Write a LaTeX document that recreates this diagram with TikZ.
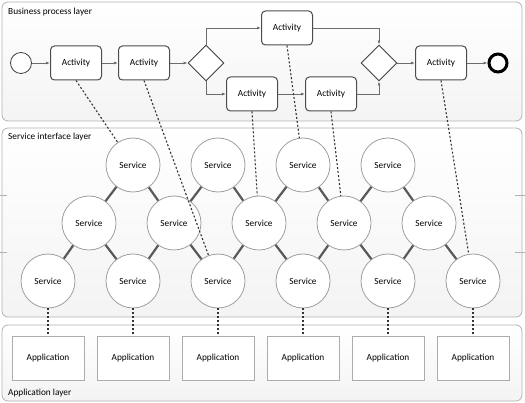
\documentclass[tikz,border=0pt]{standalone}
\usepackage{fontspec}
\setmainfont{Carlito}
\usetikzlibrary{shapes.geometric,arrows.meta}

\tikzset{
  layer/.style={draw=gray!60, rounded corners=6pt, top color=white, bottom color=gray!9, line width=0.8pt},
  activity/.style={draw=black!70, fill=white, rounded corners=4pt, minimum width=51pt, minimum height=34pt, inner sep=0pt, line width=1pt},
  gateway/.style={diamond, draw=black!75, fill=white, minimum width=36pt, minimum height=36pt, inner sep=0pt, line width=0.9pt},
  service/.style={circle, draw=gray!75, fill=white, minimum size=54pt, inner sep=0pt, line width=0.8pt},
  application/.style={draw=gray!65, fill=white, minimum width=72pt, minimum height=44pt, inner sep=0pt, line width=0.8pt},
  flow/.style={draw=gray!85!black, line width=0.8pt, -{Latex[length=4pt,width=3pt]}},
  link/.style={draw=black!65, line width=2.2pt},
  trace/.style={draw=black!80, line width=1.1pt, dash pattern=on 2pt off 2pt},
}

\begin{document}
\begin{tikzpicture}[x=1pt, y=-1pt, every node/.style={font=\fontsize{9.3}{11}\selectfont}]

\useasboundingbox (0,0) rectangle (525,403);

% Layers
\draw[layer] (2,2) rectangle (522,121);
\draw[layer] (2,128) rectangle (522,317);
\draw[layer] (2,325) rectangle (522,401);

% Small ticks on the service layer
\draw[gray!60, line width=0.8pt] (0,195) -- (7,195) (0,252) -- (7,252);
\draw[gray!60, line width=0.8pt] (515,195) -- (525,195) (515,252) -- (525,252);

% Layer labels
\node[anchor=west, inner sep=0pt] at (8,12) {Business process layer};
\node[anchor=west, inner sep=0pt] at (8,137) {Service interface layer};
\node[anchor=west, inner sep=0pt] at (8,393) {Application layer};

% Business process
\node[circle, draw=black!75, fill=white, minimum size=21pt, inner sep=0pt, line width=0.8pt] (start) at (21,63) {};
\node[activity] (act1) at (76,63) {Activity};
\node[activity] (act2) at (144,63) {Activity};
\node[gateway] (split) at (206,63) {};
\node[activity] (actTop) at (287,28) {Activity};
\node[activity] (actLeft) at (252,94) {Activity};
\node[activity] (actRight) at (331,94) {Activity};
\node[gateway] (join) at (379,63) {};
\node[activity] (actLast) at (441,63) {Activity};
\node[circle, draw=black, fill=white, minimum size=18pt, inner sep=0pt, line width=3pt] (end) at (498,63) {};

% Sequence flows
\draw[flow] (start) -- (act1);
\draw[flow] (act1) -- (act2);
\draw[flow] (act2) -- (split);
\draw[flow] (split.north) |- (actTop.west);
\draw[flow] (split.south) |- (actLeft.west);
\draw[flow] (actLeft) -- (actRight);
\draw[flow] (actTop.east) -| (join.north);
\draw[flow] (actRight.east) -| (join.south);
\draw[flow] (join) -- (actLast);
\draw[flow] (actLast) -- (end);

% Services, top row
\node[service] (sT1) at (133,165) {Service};
\node[service] (sT2) at (218,165) {Service};
\node[service] (sT3) at (303,165) {Service};
\node[service] (sT4) at (388,165) {Service};

% Services, middle row
\node[service] (sM1) at (89,223) {Service};
\node[service] (sM2) at (174,223) {Service};
\node[service] (sM3) at (259,223) {Service};
\node[service] (sM4) at (344,223) {Service};
\node[service] (sM5) at (429,223) {Service};

% Services, bottom row
\node[service] (sB1) at (48,281) {Service};
\node[service] (sB2) at (133,281) {Service};
\node[service] (sB3) at (218,281) {Service};
\node[service] (sB4) at (303,281) {Service};
\node[service] (sB5) at (388,281) {Service};
\node[service] (sB6) at (473,281) {Service};

% Links between services
\draw[link] (sT1) -- (sM1) (sT1) -- (sM2) (sT2) -- (sM2) (sT2) -- (sM3)
            (sT3) -- (sM3) (sT3) -- (sM4) (sT4) -- (sM4) (sT4) -- (sM5);
\draw[link] (sM1) -- (sB1) (sM1) -- (sB2) (sM2) -- (sB2) (sM2) -- (sB3)
            (sM3) -- (sB3) (sM3) -- (sB4) (sM4) -- (sB4) (sM4) -- (sB5)
            (sM5) -- (sB5) (sM5) -- (sB6);

% Applications
\node[application] (app1) at (48,358) {Application};
\node[application] (app2) at (133,358) {Application};
\node[application] (app3) at (218,358) {Application};
\node[application] (app4) at (303,358) {Application};
\node[application] (app5) at (388,358) {Application};
\node[application] (app6) at (473,358) {Application};

% Activities realised by services
\draw[trace] (act1.south) -- (sT1);
\draw[trace] (act2.south) -- (sB3);
\draw[trace] (actTop.south) -- (sT3);
\draw[trace] (actLeft.south) -- (sM3);
\draw[trace] (actRight.south) -- (sM4);
\draw[trace] (actLast.south) -- (sB6);

% Services backed by applications
\draw[trace] (sB1) -- (app1);
\draw[trace] (sB2) -- (app2);
\draw[trace] (sB3) -- (app3);
\draw[trace] (sB4) -- (app4);
\draw[trace] (sB5) -- (app5);
\draw[trace] (sB6) -- (app6);

\end{tikzpicture}
\end{document}
